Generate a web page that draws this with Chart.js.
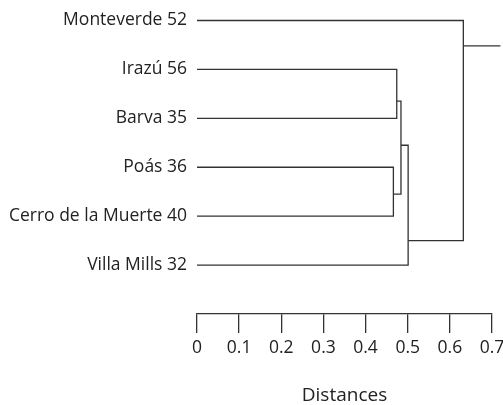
<!DOCTYPE html>
<html>
<head>
<meta charset="utf-8">
<script src="https://cdn.jsdelivr.net/npm/chart.js@4"></script>
<style>
  html, body { margin: 0; padding: 0; background: #fff; }
  #wrap { width: 503px; height: 405px; }
</style>
</head>
<body>
<div id="wrap"><canvas id="dendro"></canvas></div>
<script>
// Feuilles (de haut en bas)
const leaves = ['Monteverde 52', 'Irazú 56', 'Barva 35', 'Poás 36', 'Cerro de la Muerte 40', 'Villa Mills 32'];

// Fusions : enfant gauche, enfant droit, distance, position verticale du noeud
const mergeLeft = ['L1', 'L3', 'N0', 'N2', 'L0'];
const mergeRight = ['L2', 'L4', 'N1', 'L5', 'N3'];
const mergeHeights = [0.474, 0.466, 0.484, 0.501, 0.632];
const mergeRowPos = [1.65, 3.55, 2.55, 4.5, 0.52];
const rootEnd = 0.72;

const xTicks = [0, 0.1, 0.2, 0.3, 0.4, 0.5, 0.6, 0.7];

Chart.defaults.font.family = "'Open Sans', 'Noto Sans', sans-serif";
Chart.defaults.color = '#222';

const LINE = '#333';

function nodeInfo(ref) {
    const idx = parseInt(ref.slice(1), 10);
    if (ref[0] === 'L') return { x: 0, y: idx };
    return { x: mergeHeights[idx], y: mergeRowPos[idx] };
}

// Une branche en U par fusion
const datasets = mergeHeights.map((h, i) => {
    const a = nodeInfo(mergeLeft[i]);
    const b = nodeInfo(mergeRight[i]);
    return {
        data: [
            { x: a.x, y: a.y },
            { x: h, y: a.y },
            { x: h, y: b.y },
            { x: b.x, y: b.y }
        ]
    };
});

// Tronc de la racine
const rootIdx = mergeHeights.length - 1;
datasets.push({
    data: [
        { x: mergeHeights[rootIdx], y: mergeRowPos[rootIdx] },
        { x: rootEnd, y: mergeRowPos[rootIdx] }
    ]
});

datasets.forEach(ds => {
    ds.showLine = true;
    ds.borderColor = LINE;
    ds.borderWidth = 1.3;
    ds.pointRadius = 0;
    ds.tension = 0;
    ds.fill = false;
    ds.clip = false;
});

new Chart(document.getElementById('dendro'), {
    type: 'scatter',
    data: { datasets: datasets },
    options: {
        responsive: true,
        maintainAspectRatio: false,
        animation: false,
        layout: { padding: { top: 20, right: 11, left: 0, bottom: 0 } },
        plugins: {
            legend: { display: false },
            tooltip: { enabled: false }
        },
        scales: {
            x: {
                type: 'linear',
                min: 0,
                max: 0.7,
                afterBuildTicks: (scale) => {
                    scale.ticks = xTicks.map(v => ({ value: v }));
                },
                afterFit: (scale) => {
                    scale.height = 91;
                    scale.paddingRight = 0;
                    scale.paddingLeft = 0;
                },
                ticks: {
                    padding: 5,
                    maxRotation: 0,
                    autoSkip: false,
                    font: { size: 17.5 },
                    callback: (v) => String(Number(v.toFixed(1)))
                },
                grid: {
                    drawOnChartArea: false,
                    drawTicks: true,
                    tickLength: 19,
                    color: LINE,
                    lineWidth: 1.3
                },
                border: { display: true, color: LINE, width: 1.3 },
                title: {
                    display: true,
                    text: 'Distances',
                    font: { size: 19, lineHeight: 1 },
                    padding: { top: 0, bottom: 0 }
                }
            },
            y: {
                type: 'linear',
                reverse: true,
                min: 0,
                max: 6,
                afterBuildTicks: (scale) => {
                    scale.ticks = leaves.map((_, i) => ({ value: i }));
                },
                afterFit: (scale) => {
                    scale.width = 197;
                },
                ticks: {
                    padding: 10,
                    autoSkip: false,
                    font: { size: 17.5 },
                    callback: (v) => leaves[v] ?? ''
                },
                grid: { display: false, drawTicks: false },
                border: { display: false }
            }
        }
    }
});
</script>
</body>
</html>
